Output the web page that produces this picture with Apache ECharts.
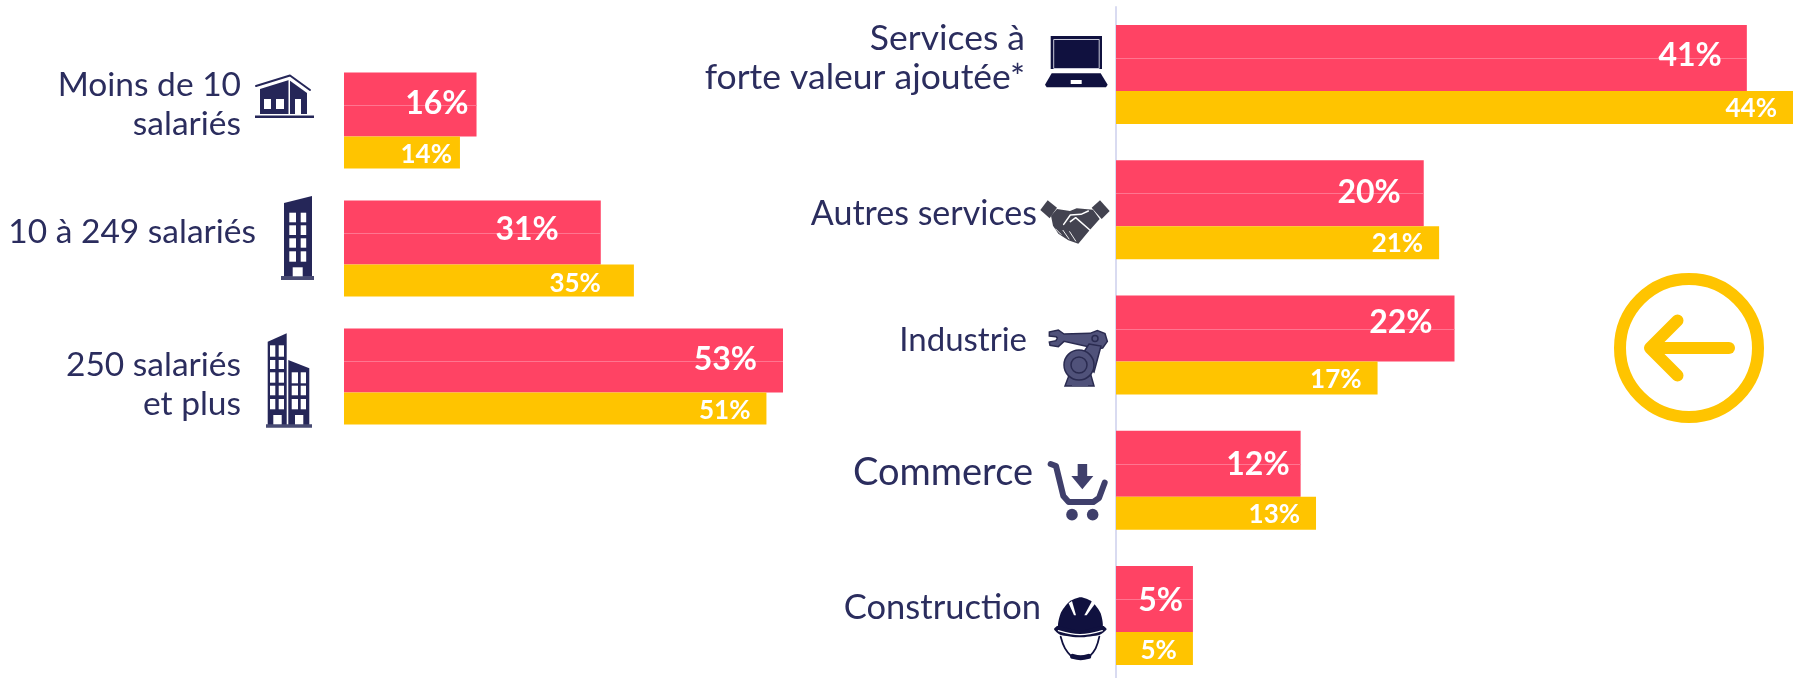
<!DOCTYPE html>
<html lang="fr">
<head>
<meta charset="utf-8">
<style>html,body{margin:0;padding:0;background:#fff}#c{width:1796px;height:678px}</style>
<script src="https://cdn.jsdelivr.net/npm/echarts@6/dist/echarts.min.js"></script>
</head>
<body>
<div id="c"></div>
<script>
// ---- data ----
const sizeCategories = ['Moins de 10\nsalariés', '10 à 249 salariés', '250 salariés\net plus'];
const sizeRed = [16, 31, 53];
const sizeYellow = [14, 35, 51];
const sectorCategories = ['Services à\nforte valeur ajoutée*', 'Autres services', 'Industrie', 'Commerce', 'Construction'];
const sectorRed = [41, 20, 22, 12, 5];
const sectorYellow = [44, 21, 17, 13, 5];

// ---- label placement (kept apart from the values) ----
const sizeLabelRight = [103,88,103], sizeLabelDy = [-16,-16,8], sizeLabelFont = [33.5,33.5,33.5];
const sectorLabelRight = [91,79,89,83,75], sectorLabelDy = [-17,4,-5,-7,-8], sectorLabelFont = [35.5,34,33,38,34.5];
const sizeRedInset = [8,42,26], sizeRedDy = [-1,-3,-1];
const sizeYellowInset = [8,33,16], sizeYellowDy = [2,3,2];
const sectorRedInset = [25,23,22,11,10], sectorRedDy = [-2,0,-6,1,2];
const sectorYellowInset = [16,16,16,16,16], sectorYellowDy = [1,1,2,1,2];

const RED = '#ff4364', YEL = '#ffc400', NAVY = '#252658', TXT = '#2b2d5e';
const FONT = 'Lato, "Open Sans", sans-serif';

function items(vals, inset, dy) {
  return vals.map((v, i) => ({ value: v, label: { distance: inset[i], offset: [0, dy[i]] } }));
}
function barSeries(idx, vals, color, w, labels) {
  return {
    type: 'bar', xAxisIndex: idx, yAxisIndex: idx,
    data: labels ? items(vals, labels.inset, labels.dy) : vals,
    barWidth: w, barGap: 0, itemStyle: { color }, silent: true, z: 4,
    label: labels ? { show: true, position: 'insideRight', color: '#fff', fontFamily: FONT, fontWeight: 'bold', fontSize: labels.size,
             formatter: p => p.value + '%' } : { show: false }
  };
}
// category names, placed from the category scale
function nameSeries(idx, names, right, dy, fonts) {
  return {
    type: 'custom', xAxisIndex: idx, yAxisIndex: idx, silent: true, z: 5, data: names.map((n, i) => [0, i]),
    encode: { x: 0, y: 1 },
    renderItem(params, api) {
      const i = params.dataIndex, c = api.coord([0, i]);
      return { type: 'text', x: c[0] - right[i], y: c[1] + dy[i],
               style: { text: names[i], align: 'right', verticalAlign: 'middle', fill: TXT, fontFamily: FONT,
                        fontSize: fonts[i], lineHeight: 39 } };
    }
  };
}
// hairline across the middle of each red bar, with the bar's value printed above it
function redOverlay(idx, vals, h, total, inset, dy, size) {
  return {
    type: 'custom', xAxisIndex: idx, yAxisIndex: idx, silent: true, z: 5, data: vals.map((v, i) => [v, i]),
    encode: { x: 0, y: 1 },
    renderItem(params, api) {
      const i = params.dataIndex, s = api.coord([0, i]), e = api.coord([vals[i], i]);
      const my = Math.round(s[1] - total / 2 + h / 2);
      return { type: 'group', children: [
        { type: 'rect', shape: { x: s[0], y: my, width: e[0] - s[0], height: 1 }, style: { fill: '#ff7590' } },
        { type: 'text', x: e[0] - inset[i], y: my + dy[i],
          style: { text: vals[i] + '%', align: 'right', verticalAlign: 'middle', fill: '#fff', fontFamily: FONT, fontWeight: 'bold', fontSize: size } }
      ] };
    }
  };
}
// ---- pictograms ----
const rect = (x, y, w, h, fill) => ({ type: 'rect', shape: { x, y, width: w, height: h }, style: { fill } });
const poly = (pts, fill, smooth) => ({ type: 'polygon', shape: { points: pts, smooth: smooth || 0 }, style: { fill } });
const circ = (cx, cy, r, fill, stroke, lw) => ({ type: 'circle', shape: { cx, cy, r }, style: { fill: fill || 'none', stroke: stroke || null, lineWidth: lw || 0 } });
const pl = (pts, stroke, lw, smooth) => ({ type: 'polyline', shape: { points: pts, smooth: smooth || 0 }, style: { fill: 'none', stroke, lineWidth: lw, lineCap: 'round', lineJoin: 'round' } });
const W = '#fff';
function z3(ox, oy, pts) { return pts.map(p => [ox + p[0] / 3, oy + p[1] / 3]); }

const house = [
  pl([[256,86],[290,75.5],[310,90]], NAVY, 2),
  poly([[260,89],[289,80],[307,93],[307,114],[260,114]], NAVY),
  rect(255,115.5,59,2.5,NAVY),
  rect(288.5,78,1.5,36,W),
  rect(264,99,7,10,W), rect(276,99,8,10,W), rect(295,99,6,15,W)
];
const tower = [
  poly([[284,203],[312,196],[312,277],[284,277]], NAVY),
  rect(281,276,33,4,'#474a72')
];
[[289.3,6.7],[300.7,5.5]].forEach(c => [[212.7,9.6],[225.3,9.7],[238.3,9.4],[251.3,10.4]].forEach(r => tower.push(rect(c[0],r[0],c[1],r[1],W))));
tower.push(rect(292.7,267.3,10,9,W));
const towers = [
  poly([[267.7,341.7],[286.7,333.3],[286.7,425],[267.7,425]], NAVY),
  poly([[288.3,360],[309.3,368.3],[309.3,425],[288.3,425]], NAVY),
  rect(266,424.3,46,3.5,'#474a72')
];
[[270,5.3],[278.7,5.3]].forEach(c => [[345.3,11.4],[360,9],[372.3,10.4],[385.7,9.6],[399,10.3]].forEach(r => towers.push(rect(c[0],r[0],c[1],r[1],W))));
[[291.7,6.3],[300.7,5.3]].forEach(c => [[372.3,11],[385.7,9.6],[399,10.3]].forEach(r => towers.push(rect(c[0],r[0],c[1],r[1],W))));
towers.push(rect(273.3,415,8.4,9.3,W), rect(295,415,8.3,9.3,W));
const DARK = '#10113f';
const laptop = [
  rect(1050.7,36,51.3,33,DARK),
  { type: 'rect', shape: { x: 1053.7, y: 39.5, width: 45.5, height: 29 }, style: { fill: 'none', stroke: '#c9cad8', lineWidth: 1 } },
  poly(z3(680,0,[[1115,220],[1262,220],[1283,254],[1278,262],[1100,262],[1095,254]]), DARK),
  rect(1070.7,80,11,4,W)
];
const HS = '#434350';
const handshake = [
  poly(z3(1035,195,[[16,45],[38,16],[66,38],[44,70]]), HS),
  poly(z3(1035,195,[[170,38],[195,16],[224,48],[200,72]]), HS),
  poly(z3(1035,195,[[48,62],[66,42],[105,48],[125,40],[174,44],[194,72],[160,110],[130,146],[100,136],[70,116],[54,92]]), HS),
  pl(z3(1035,195,[[86,88],[106,60],[138,58],[160,48]]), W, 1.5),
  pl(z3(1035,195,[[106,80],[122,68],[168,108]]), W, 1.5),
  pl(z3(1035,195,[[62,102],[78,118]]), W, 0.9), pl(z3(1035,195,[[84,106],[102,132]]), W, 0.9), pl(z3(1035,195,[[104,110],[122,138]]), W, 0.9)
];
const RB = '#50527a', RS = '#2a2b50';
const shp = (e) => { e.style.stroke = RS; e.style.lineWidth = 1.5; return e; };
const robot = [
  shp(poly(z3(1040,322,[[28,30],[55,24],[72,36],[150,34],[172,26],[195,35],[202,58],[188,78],[172,80],[72,58],[55,74],[30,70],[28,60],[48,56],[52,48],[48,44],[28,42]]), RB)),
  shp(poly([[1089,344],[1101,346],[1094,372],[1080,358]], RB)),
  shp(poly([[1070,372],[1090,372],[1094,386],[1065,386],[1068,378]], RB)),
  shp(circ(1079,365,15,RB)),
  circ(1079,365,8,'none',RS,1.5),
  circ(1095,338.5,3,RB,RS,1.5),
  rect(1072,384,16,2,RB)
];
const CART = '#3f3f6b';
const cart = [
  pl(z3(800,340,[[752,372],[768,378],[790,468],[806,486],[880,486],[897,474],[914,428]]), CART, 6),
  circ(800+816/3,340+524/3,5.8,CART), circ(800+878/3,340+524/3,5.8,CART),
  rect(800+833/3,340+372/3,9.5,12,CART),
  poly(z3(800,340,[[814,408],[880,408],[847,448]]), CART)
];
const helmet = [
  poly(z3(800,340,[[776,868],[782,820],[808,785],[842,772],[876,785],[902,820],[906,868],[840,878]]), DARK, 0.25),
  poly(z3(800,340,[[762,868],[772,858],[840,872],[910,858],[920,868],[900,884],[840,892],[780,884]]), DARK, 0.2),
  pl(z3(800,340,[[775,872],[840,884],[907,872]]), W, 1.2, 0.4),
  poly(z3(800,340,[[806,790],[816,783],[828,826],[822,826]]), W),
  poly(z3(800,340,[[876,783],[886,790],[860,826],[853,826]]), W),
  pl(z3(800,340,[[782,890],[795,925],[815,950]]), DARK, 1.8, 0.4),
  pl(z3(800,340,[[898,890],[887,925],[868,950]]), DARK, 1.8, 0.4),
  pl(z3(800,340,[[818,949],[842,953],[866,949]]), DARK, 5, 0.4)
];
const back = [
  { type: 'circle', shape: { cx: 1689, cy: 348, r: 69 }, style: { fill: 'none', stroke: YEL, lineWidth: 12 } },
  pl([[1652,348],[1729,348]], YEL, 12),
  pl([[1677.5,320.5],[1650,348],[1677.5,375.5]], YEL, 12)
];
const graphics = [].concat(house, tower, towers, laptop, handshake, robot, cart, helmet, back).map(e => Object.assign(e, { silent: true }));

const chart = echarts.init(document.getElementById('c'), null, { renderer: 'canvas' });
const yBase = (data, lineShown, lineCol) => ({
  type: 'category', inverse: true, data,
  axisTick: { show: false }, axisLabel: { show: false },
  axisLine: { show: lineShown, lineStyle: { color: lineCol, width: 2 } }
});
chart.setOption({
  animation: false, backgroundColor: '#fff', tooltip: { show: false },
  grid: [
    { left: 344, top: 56.5, width: 439, height: 384, outerBoundsMode: 'none' },
    { left: 1116, top: 7, width: 677, height: 676, outerBoundsMode: 'none' }
  ],
  xAxis: [
    { type: 'value', gridIndex: 0, min: 0, max: 53, show: false },
    { type: 'value', gridIndex: 1, min: 0, max: 44, show: false }
  ],
  yAxis: [
    Object.assign(yBase(sizeCategories, false, '#fff'), { gridIndex: 0 }),
    Object.assign(yBase(sectorCategories, true, '#d9dbf1'), { gridIndex: 1, offset: 1 })
  ],
  series: [
    barSeries(0, sizeRed, RED, 64),
    barSeries(0, sizeYellow, YEL, 32, { inset: sizeYellowInset, dy: sizeYellowDy, size: 26 }),
    barSeries(1, sectorRed, RED, 66),
    barSeries(1, sectorYellow, YEL, 33, { inset: sectorYellowInset, dy: sectorYellowDy, size: 26 }),
    redOverlay(0, sizeRed, 64, 96, sizeRedInset, sizeRedDy, 32),
    redOverlay(1, sectorRed, 66, 99, sectorRedInset, sectorRedDy, 32),
    nameSeries(0, sizeCategories, sizeLabelRight, sizeLabelDy, sizeLabelFont),
    nameSeries(1, sectorCategories, sectorLabelRight, sectorLabelDy, sectorLabelFont)
  ],
  graphic: { elements: graphics }
});
</script>
</body>
</html>
